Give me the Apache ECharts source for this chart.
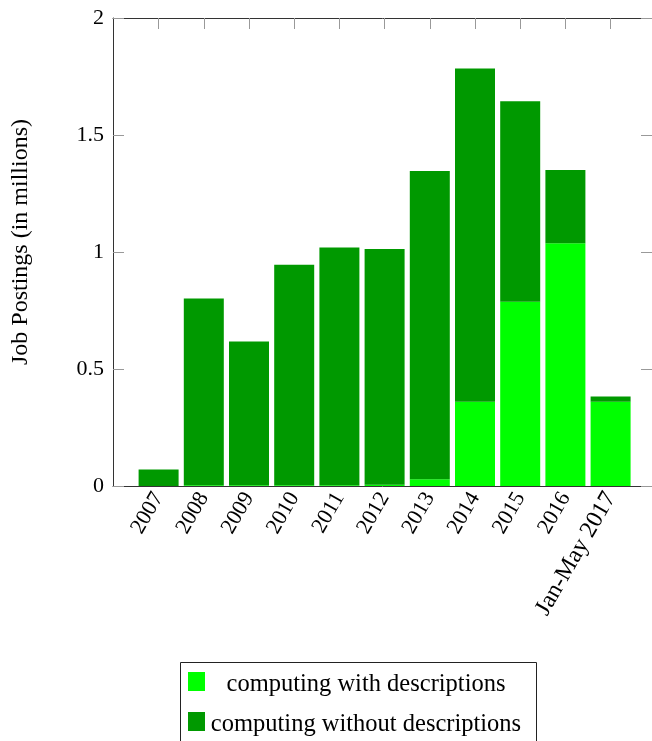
<!DOCTYPE html>
<html>
<head>
<meta charset="utf-8">
<script src="https://cdn.jsdelivr.net/npm/echarts@6/dist/echarts.min.js"></script>
<style>
html,body{margin:0;padding:0;background:#fff;}
#c{width:652px;height:741px;}
</style>
</head>
<body>
<div id="c"></div>
<script>
const categories = ['2007','2008','2009','2010','2011','2012','2013','2014','2015','2016','Jan-May 2017'];
const withDesc =    [0.000, 0.003, 0.003, 0.003, 0.003, 0.005, 0.029, 0.360, 0.787, 1.037, 0.360];
const withoutDesc = [0.070, 0.798, 0.614, 0.943, 1.016, 1.008, 1.317, 1.424, 0.857, 0.313, 0.022];
const yMin = 0, yMax = 2, yStep = 0.5;
const seriesNames = ['computing with descriptions', 'computing without descriptions'];

const FONT = 'Liberation Serif';
const chart = echarts.init(document.getElementById('c'), null, {renderer: 'canvas'});

const PLOT_TOP = 18, PLOT_H = 468;
const FRAME_L = 113, FRAME_W = 543;
const SLOT = 45.2;

const frameLine = {show: true, onZero: false, lineStyle: {color: '#333', width: 1}};
const tickStyle = {show: true, inside: true, length: 11, lineStyle: {color: '#999', width: 1}};

const option = {
  animation: false,
  backgroundColor: '#fff',
  grid: [
    {left: FRAME_L + SLOT / 2 + 0.4, top: PLOT_TOP, width: SLOT * 11, height: PLOT_H, containLabel: false},
    {left: FRAME_L, top: PLOT_TOP, width: FRAME_W, height: PLOT_H, containLabel: false}
  ],
  xAxis: [
    {
      gridIndex: 0, type: 'category', position: 'bottom', data: categories, boundaryGap: true,
      axisLine: {show: false}, axisTick: {show: false}, splitLine: {show: false},
      axisLabel: {
        rotate: 60, margin: 8, fontFamily: FONT, fontSize: 22, color: '#000', interval: 0,
        formatter: v => /[A-Za-z]/.test(v) ? '{w|' + v + '}' : v,
        rich: {w: {fontFamily: FONT, fontSize: 24, color: '#000'}}
      }
    },
    {
      gridIndex: 0, type: 'category', position: 'top', data: categories, boundaryGap: true,
      axisLine: {show: false},
      axisTick: Object.assign({alignWithLabel: true, interval: 0}, tickStyle),
      axisLabel: {show: false}, splitLine: {show: false}
    },
    {
      gridIndex: 1, type: 'value', position: 'bottom', min: 0, max: 1,
      axisLine: frameLine, axisTick: {show: false}, axisLabel: {show: false}, splitLine: {show: false}
    },
    {
      gridIndex: 1, type: 'value', position: 'top', min: 0, max: 1,
      axisLine: frameLine, axisTick: {show: false}, axisLabel: {show: false}, splitLine: {show: false}
    }
  ],
  yAxis: [
    {
      gridIndex: 0, type: 'value', min: yMin, max: yMax, interval: yStep,
      axisLine: {show: false}, axisTick: {show: false}, axisLabel: {show: false}, splitLine: {show: false}
    },
    {
      gridIndex: 1, type: 'value', position: 'left', min: yMin, max: yMax, interval: yStep,
      name: 'Job Postings (in millions)', nameLocation: 'middle', nameGap: 80,
      nameTextStyle: {fontFamily: FONT, fontSize: 24, color: '#000', padding: [0, 0, 0, 20]},
      axisLine: frameLine, axisTick: tickStyle,
      axisLabel: {fontFamily: FONT, fontSize: 22, color: '#000', margin: 9},
      splitLine: {show: false}
    },
    {
      gridIndex: 1, type: 'value', position: 'right', min: yMin, max: yMax, interval: yStep,
      axisLine: frameLine, axisTick: tickStyle, axisLabel: {show: false}, splitLine: {show: false}
    }
  ],
  legend: {
    orient: 'vertical', left: 188, top: 666,
    data: seriesNames,
    padding: 0,
    itemWidth: 17, itemHeight: 19, itemGap: 9,
    icon: 'rect',
    selectedMode: false,
    formatter: name => '{t|' + name + '}',
    textStyle: {
      fontFamily: FONT, fontSize: 24.5, color: '#000',
      rich: {t: {fontFamily: FONT, fontSize: 24.5, color: '#000', width: 312, align: 'center', lineHeight: 26, padding: [6, 0, 0, 0]}}
    }
  },
  graphic: [
    {type: 'rect', silent: true, shape: {x: 180.5, y: 662.5, width: 356, height: 100},
     style: {fill: 'none', stroke: '#222', lineWidth: 1}, z: 10}
  ],
  series: [
    {
      name: seriesNames[0], type: 'bar', stack: 'total', barWidth: 40,
      xAxisIndex: 0, yAxisIndex: 0,
      itemStyle: {color: '#00ff00'},
      data: withDesc
    },
    {
      name: seriesNames[1], type: 'bar', stack: 'total', barWidth: 40,
      xAxisIndex: 0, yAxisIndex: 0,
      itemStyle: {color: '#009900'},
      data: withoutDesc
    }
  ]
};
chart.setOption(option);
</script>
</body>
</html>
